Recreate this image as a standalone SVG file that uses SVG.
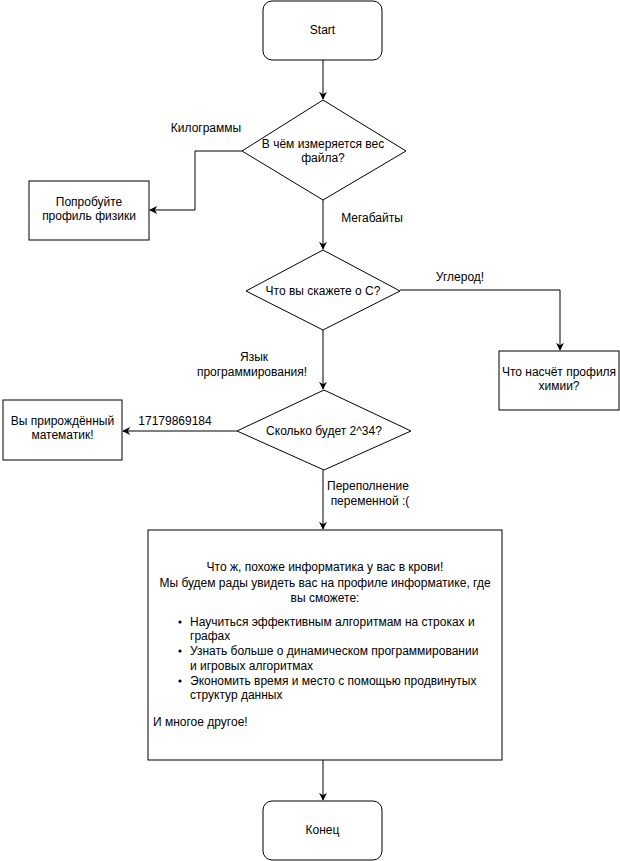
<svg xmlns="http://www.w3.org/2000/svg" width="620" height="861" viewBox="0 0 620 861">
<defs>
<style>
.s{fill:#fff;stroke:#000;stroke-width:1}
.c{fill:none;stroke:#000;stroke-width:1}
text{font-family:"Liberation Sans",Arial,sans-serif;font-size:12px;fill:#000}
.m{text-anchor:middle}
</style>
<marker id="a" viewBox="0 0 10 10" refX="9" refY="5" markerWidth="8" markerHeight="8" markerUnits="userSpaceOnUse" orient="auto">
<path d="M0,0 L10,5 L0,10 L3,5 Z" fill="#000"/>
</marker>
</defs>
<rect width="620" height="861" fill="#fff"/>
<g id="connectors">
<path class="c" d="M323,60 V99" marker-end="url(#a)"/>
<path class="c" d="M242,151 H195 V210 H150" marker-end="url(#a)"/>
<path class="c" d="M323,200 V249" marker-end="url(#a)"/>
<path class="c" d="M400,290 H560 V350" marker-end="url(#a)"/>
<path class="c" d="M323,330 V389" marker-end="url(#a)"/>
<path class="c" d="M237,431 H123" marker-end="url(#a)"/>
<path class="c" d="M323,470 V529" marker-end="url(#a)"/>
<path class="c" d="M323,760 V800" marker-end="url(#a)"/>
<text x="206" y="132" class="m">Килограммы</text>
<text x="372" y="222" class="m">Мегабайты</text>
<text x="460" y="281" class="m">Углерод!</text>
<text x="254" y="361" class="m">Язык</text>
<text x="252" y="376" class="m">программирования!</text>
<text x="175" y="425" class="m">17179869184</text>
<text x="368" y="490" class="m">Переполнение</text>
<text x="370" y="505" class="m">переменной :(</text>
</g>
<g id="start">
<rect class="s" x="263" y="1" width="119" height="59" rx="9"/>
<text x="322.5" y="34" class="m">Start</text>
</g>
<g id="q1">
<path class="s" d="M323,100 L406,151 L323,200 L242,151 Z"/>
<text x="323" y="148" class="m">В чём измеряется вес</text>
<text x="323" y="162" class="m">файла?</text>
</g>
<g id="physics">
<rect class="s" x="29" y="181" width="120" height="59"/>
<text x="89" y="206" class="m">Попробуйте</text>
<text x="89" y="220" class="m">профиль физики</text>
</g>
<g id="q2">
<path class="s" d="M323,250 L400,291 L323,330 L246,291 Z"/>
<text x="323" y="295" class="m">Что вы скажете о С?</text>
</g>
<g id="chem">
<rect class="s" x="499" y="351" width="120" height="59"/>
<text x="559" y="376" class="m">Что насчёт профиля</text>
<text x="559" y="390" class="m">химии?</text>
</g>
<g id="q3">
<path class="s" d="M324,390 L411,431 L324,470 L237,431 Z"/>
<text x="324" y="435" class="m">Сколько будет 2^34?</text>
</g>
<g id="math">
<rect class="s" x="3" y="400" width="119" height="60"/>
<text x="62.5" y="425" class="m">Вы прирождённый</text>
<text x="62.5" y="439" class="m">математик!</text>
</g>
<g id="info">
<rect class="s" x="148" y="530" width="354" height="230"/>
<text x="325" y="571" class="m">Что ж, похоже информатика у вас в крови!</text>
<text x="325" y="587" class="m">Мы будем рады увидеть вас на профиле информатике, где</text>
<text x="325" y="602" class="m">вы сможете:</text>
<circle cx="180" cy="622" r="1.6" fill="#000"/>
<text x="190" y="626">Научиться эффективным алгоритмам на строках и</text>
<text x="190" y="640">графах</text>
<circle cx="180" cy="651" r="1.6" fill="#000"/>
<text x="190" y="655">Узнать больше о динамическом программировании</text>
<text x="190" y="670">и игровых алгоритмах</text>
<circle cx="180" cy="681" r="1.6" fill="#000"/>
<text x="190" y="685">Экономить время и место с помощью продвинутых</text>
<text x="190" y="699">структур данных</text>
<text x="153" y="726">И многое другое!</text>
</g>
<g id="end">
<rect class="s" x="263" y="801" width="119" height="59" rx="9"/>
<text x="322.5" y="834" class="m">Конец</text>
</g>
</svg>
